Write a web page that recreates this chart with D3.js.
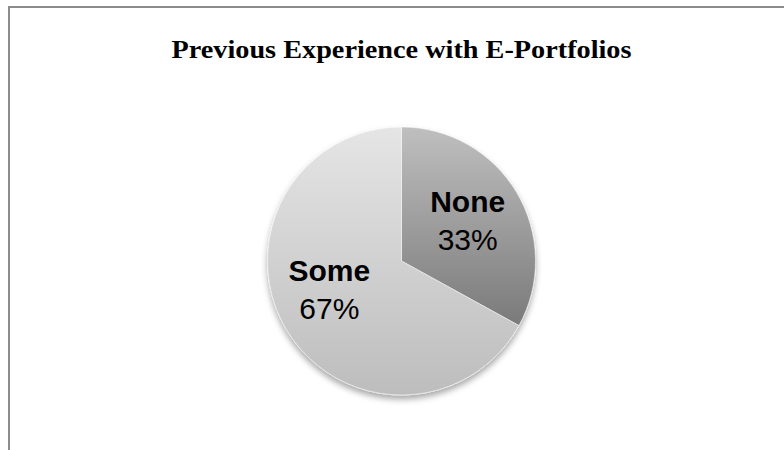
<!DOCTYPE html>
<html>
<head>
<meta charset="utf-8">
<script src="https://cdn.jsdelivr.net/npm/d3@7"></script>
<style>
  body { margin: 0; background: #fff; }
  svg { display: block; }
</style>
</head>
<body>
<svg id="canvas"></svg>
<script>
let title = "Previous Experience with E-Portfolios";
let categories = ["None", "Some"];
let values = [33, 67];
let percentLabels = ["33%", "67%"];

let width = 784,
  height = 450;

let cx = 401.5,
  cy = 261,
  radius = 134;

// top / bottom colours of each slice gradient
let sliceTop = ["#bfbfbf", "#e5e5e5"];
let sliceBottom = ["#7a7a7a", "#bdbdbd"];

let canvas = d3.select("#canvas").attr("width", width).attr("height", height);

let defs = canvas.append("defs");

categories.forEach((c, i) => {
  let g = defs
    .append("linearGradient")
    .attr("id", "grad" + i)
    .attr("x1", 0)
    .attr("y1", 0)
    .attr("x2", 0)
    .attr("y2", 1);
  g.append("stop").attr("offset", "0%").attr("stop-color", sliceTop[i]);
  g.append("stop").attr("offset", "100%").attr("stop-color", sliceBottom[i]);
});

let shadow = defs
  .append("filter")
  .attr("id", "shadow")
  .attr("x", "-20%")
  .attr("y", "-20%")
  .attr("width", "140%")
  .attr("height", "140%");
shadow
  .append("feDropShadow")
  .attr("dx", 0)
  .attr("dy", 4)
  .attr("stdDeviation", 3)
  .attr("flood-color", "#000")
  .attr("flood-opacity", 0.35);

// chart frame (runs off the right and bottom of the picture)
canvas
  .append("rect")
  .attr("x", 9)
  .attr("y", 7)
  .attr("width", width + 20)
  .attr("height", height + 20)
  .attr("fill", "#fff")
  .attr("stroke", "#8c8c8c")
  .attr("stroke-width", 2);

// title
canvas
  .append("text")
  .attr("x", 401.5)
  .attr("y", 58)
  .attr("text-anchor", "middle")
  .attr("font-family", "'Liberation Serif', 'DejaVu Serif', serif")
  .attr("font-weight", "bold")
  .attr("font-size", 25)
  .attr("fill", "#000")
  .attr("textLength", 460)
  .attr("lengthAdjust", "spacingAndGlyphs")
  .text(title);

let pie = d3.pie().sort(null).value((d) => d);
let arcs = pie(values);

let arc = d3.arc().innerRadius(0).outerRadius(radius);
let labelArc = d3.arc().innerRadius(radius * 0.6).outerRadius(radius * 0.6);

let pieGroup = canvas
  .append("g")
  .attr("transform", "translate(" + cx + "," + cy + ")");

pieGroup
  .append("g")
  .attr("filter", "url(#shadow)")
  .selectAll("path")
  .data(arcs)
  .enter()
  .append("path")
  .attr("d", arc)
  .attr("fill", (d, i) => "url(#grad" + i + ")")
  .attr("stroke", "#ffffff")
  .attr("stroke-opacity", 0.6)
  .attr("stroke-width", 0.8);

// small nudges so labels sit where Excel's best-fit put them
let nudge = [
  [-3, -3],
  [-3, -16],
];

let labels = pieGroup
  .selectAll(".label")
  .data(arcs)
  .enter()
  .append("text")
  .attr("class", "label")
  .attr("text-anchor", "middle")
  .attr("font-family", "'Liberation Sans', Arial, sans-serif")
  .attr("font-size", 30)
  .attr("fill", "#000")
  .attr("transform", (d, i) => {
    let c = labelArc.centroid(d);
    return "translate(" + (c[0] + nudge[i][0]) + "," + (c[1] + nudge[i][1]) + ")";
  });

labels
  .append("tspan")
  .attr("x", 0)
  .attr("dy", -5)
  .attr("font-weight", "bold")
  .text((d, i) => categories[i]);

labels
  .append("tspan")
  .attr("x", 0)
  .attr("dy", 38)
  .text((d, i) => percentLabels[i]);
</script>
</body>
</html>
